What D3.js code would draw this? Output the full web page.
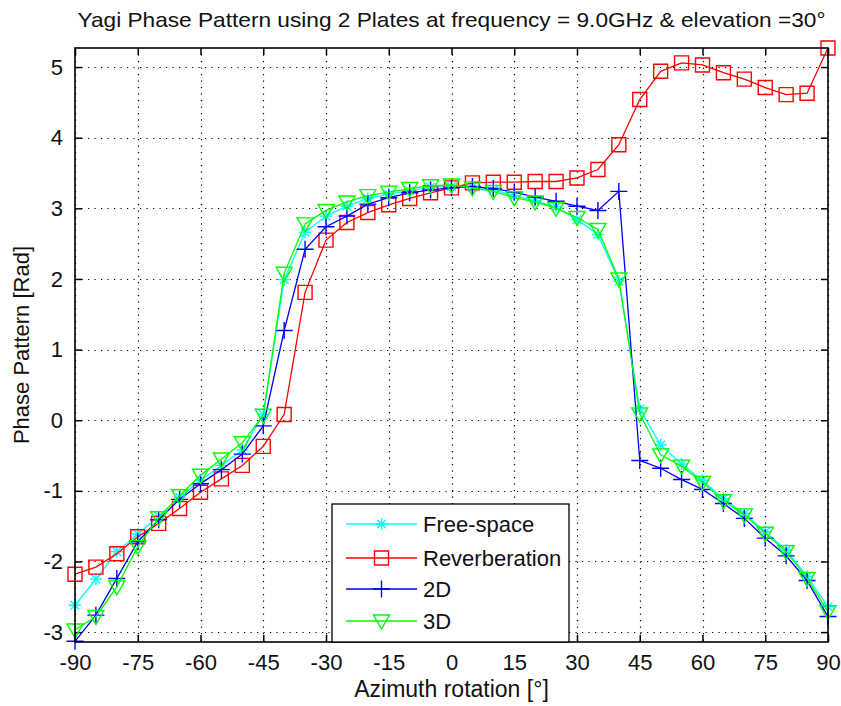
<!DOCTYPE html>
<html>
<head>
<meta charset="utf-8">
<script src="https://cdn.jsdelivr.net/npm/d3@7/dist/d3.min.js"></script>
<style>
  body { margin: 0; background: #fff; }
  text { font-family: "Liberation Sans", Arial, Helvetica, sans-serif; fill: #111; }
</style>
</head>
<body>
<div id="chart"></div>
<script>
// azimuth angles (deg)
var azimuth = [-90, -85, -80, -75, -70, -65, -60, -55, -50, -45, -40, -35, -30, -25, -20, -15, -10, -5, 0,
               5, 10, 15, 20, 25, 30, 35, 40, 45, 50, 55, 60, 65, 70, 75, 80, 85, 90];

var freeSpace = [-2.62, -2.25, -1.86, -1.61, -1.36, -1.09, -0.85, -0.64, -0.42, 0.08, 1.99, 2.66, 2.89, 3.03, 3.14, 3.20, 3.25, 3.30, 3.31,
                 3.30, 3.26, 3.18, 3.11, 3.02, 2.84, 2.63, 1.97, 0.16, -0.35, -0.62, -0.85, -1.11, -1.32, -1.58, -1.84, -2.21, -2.64];

var reverberation = [-2.18, -2.08, -1.89, -1.65, -1.46, -1.25, -1.02, -0.83, -0.64, -0.37, 0.08, 1.81, 2.55, 2.80, 2.94, 3.05, 3.14, 3.22, 3.29,
                     3.36, 3.37, 3.37, 3.38, 3.38, 3.43, 3.55, 3.90, 4.54, 4.94, 5.06, 5.03, 4.92, 4.83, 4.71, 4.61, 4.63, 5.27];

var twoD = [-3.13, -2.76, -2.24, -1.72, -1.41, -1.12, -0.90, -0.70, -0.48, -0.08, 1.27, 2.42, 2.74, 2.89, 3.06, 3.15, 3.22, 3.26, 3.29,
            3.31, 3.28, 3.23, 3.16, 3.10, 3.03, 2.97, 3.24, -0.57, -0.68, -0.84, -0.98, -1.18, -1.39, -1.67, -1.92, -2.27, -2.78];

var threeD = [-2.97, -2.78, -2.36, -1.79, -1.38, -1.07, -0.78, -0.55, -0.32, 0.07, 2.08, 2.78, 2.97, 3.09, 3.18, 3.23, 3.28, 3.32, 3.33,
              3.29, 3.24, 3.15, 3.09, 3.00, 2.87, 2.70, 2.00, 0.09, -0.49, -0.65, -0.88, -1.14, -1.34, -1.60, -1.86, -2.24, -2.71];

var xTicks = [-90, -75, -60, -45, -30, -15, 0, 15, 30, 45, 60, 75, 90];
var yTicks = [-3, -2, -1, 0, 1, 2, 3, 4, 5];

var seriesNames = ["Free-space", "Reverberation", "2D", "3D"];
var seriesColors = ["#00ffff", "#ff0000", "#0000ff", "#00ff00"];
var seriesValues = [freeSpace, reverberation, twoD, threeD];

// marker shapes, matlab style
var markerPaths = [
    "M-6,0H6M0,-6V6M-4.3,-4.3L4.3,4.3M-4.3,4.3L4.3,-4.3",
    "M-7,-7H7V7H-7Z",
    "M-8.5,0H8.5M0,-8.5V8.5",
    "M-8,-6H8L0,8Z"
];

var margin = {top: 48, right: 13, bottom: 64, left: 75},
    width = 841 - margin.left - margin.right,
    height = 706 - margin.top - margin.bottom;

var svg = d3.select("#chart")
    .append("svg")
    .attr("width", width + margin.left + margin.right)
    .attr("height", height + margin.top + margin.bottom);

var g = svg.append("g")
    .attr("transform", "translate(" + margin.left + "," + margin.top + ")");

var xScale = d3.scaleLinear().domain([-90, 90]).range([0, width]);
var yScale = d3.scaleLinear().domain([-3.14, 5.27]).range([height, 0]);

// plain hyphen for negatives, like matlab
var plainFmt = function(d) { return String(d); };

// dotted grid
g.append("g").selectAll("line").data(xTicks).enter().append("line")
    .attr("x1", function(d) { return Math.round(xScale(d)) + 0.5; })
    .attr("x2", function(d) { return Math.round(xScale(d)) + 0.5; })
    .attr("y1", 0).attr("y2", height)
    .attr("stroke", "#000").attr("stroke-width", 1.2)
    .attr("stroke-dasharray", "1.2,5.3");
g.append("g").selectAll("line").data(yTicks).enter().append("line")
    .attr("y1", function(d) { return Math.round(yScale(d)) + 0.5; })
    .attr("y2", function(d) { return Math.round(yScale(d)) + 0.5; })
    .attr("x1", 0).attr("x2", width)
    .attr("stroke", "#000").attr("stroke-width", 1.2)
    .attr("stroke-dasharray", "1.2,5.3");

// axes with inward ticks on every side
var xAxis = g.append("g")
    .attr("transform", "translate(0," + height + ")")
    .call(d3.axisBottom(xScale).tickValues(xTicks).tickFormat(plainFmt).tickSizeInner(-7).tickSizeOuter(0).tickPadding(12));
var xAxisTop = g.append("g")
    .call(d3.axisTop(xScale).tickValues(xTicks).tickSizeInner(-7).tickSizeOuter(0).tickFormat(""));
var yAxis = g.append("g")
    .call(d3.axisLeft(yScale).tickValues(yTicks).tickFormat(plainFmt).tickSizeInner(-7).tickSizeOuter(0).tickPadding(12));
var yAxisRight = g.append("g")
    .attr("transform", "translate(" + width + ",0)")
    .call(d3.axisRight(yScale).tickValues(yTicks).tickSizeInner(-7).tickSizeOuter(0).tickFormat(""));

g.selectAll(".domain").remove();
g.selectAll(".tick line").attr("stroke", "#000").attr("stroke-width", 1.5);
g.selectAll(".tick text")
    .style("font-family", '"Liberation Sans", Arial, sans-serif')
    .style("font-size", "22px")
    .attr("fill", "#111");

// series
seriesValues.forEach(function(vals, i) {
    var pts = azimuth.map(function(a, k) { return [a, vals[k]]; });
    var line = d3.line()
        .x(function(d) { return xScale(d[0]); })
        .y(function(d) { return yScale(d[1]); });
    g.append("path")
        .datum(pts)
        .attr("fill", "none")
        .attr("stroke", seriesColors[i])
        .attr("stroke-width", 1.3)
        .attr("d", line);
    g.append("g").selectAll("path")
        .data(pts)
        .enter()
        .append("path")
        .attr("transform", function(d) { return "translate(" + xScale(d[0]) + "," + yScale(d[1]) + ")"; })
        .attr("d", markerPaths[i])
        .attr("fill", "none")
        .attr("stroke", seriesColors[i])
        .attr("stroke-width", 1.4);
});

// box
g.append("rect")
    .attr("x", 0).attr("y", 0)
    .attr("width", width).attr("height", height)
    .attr("fill", "none")
    .attr("stroke", "#000")
    .attr("stroke-width", 1.6);

// legend
var legend = g.append("g")
    .attr("transform", "translate(" + (332 - margin.left) + "," + (504 - margin.top) + ")");
legend.append("rect")
    .attr("width", 237).attr("height", 138)
    .attr("fill", "#fff")
    .attr("stroke", "#000")
    .attr("stroke-width", 1.3);
var legendY = [20, 54, 85, 117];
seriesNames.forEach(function(name, i) {
    var row = legend.append("g").attr("transform", "translate(0," + legendY[i] + ")");
    row.append("line")
        .attr("x1", 14).attr("x2", 85)
        .attr("stroke", seriesColors[i]).attr("stroke-width", 1.3);
    row.append("path")
        .attr("transform", "translate(49.5,0)")
        .attr("d", markerPaths[i])
        .attr("fill", "none")
        .attr("stroke", seriesColors[i])
        .attr("stroke-width", 1.4);
    row.append("text")
        .attr("x", 91).attr("y", 8)
        .style("font-size", "22px")
        .text(name);
});

// title and labels
svg.append("text")
    .attr("x", margin.left + width / 2)
    .attr("y", 27)
    .attr("text-anchor", "middle")
    .attr("textLength", 748)
    .attr("lengthAdjust", "spacingAndGlyphs")
    .style("font-size", "21px")
    .text("Yagi Phase Pattern using 2 Plates at frequency = 9.0GHz & elevation =30°");

svg.append("text")
    .attr("x", margin.left + width / 2)
    .attr("y", 697)
    .attr("text-anchor", "middle")
    .style("font-size", "23px")
    .text("Azimuth rotation [°]");

svg.append("text")
    .attr("transform", "translate(29," + (margin.top + height / 2) + ") rotate(-90)")
    .attr("text-anchor", "middle")
    .style("font-size", "22px")
    .text("Phase Pattern [Rad]");
</script>
</body>
</html>
